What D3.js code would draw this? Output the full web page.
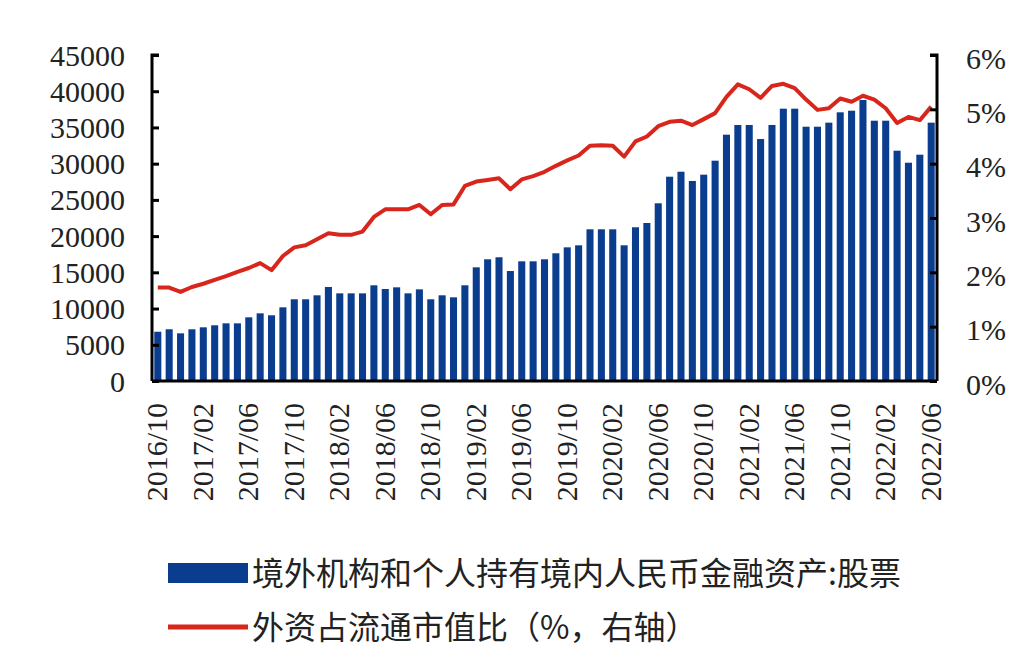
<!DOCTYPE html>
<html>
<head>
<meta charset="utf-8">
<script src="https://cdn.jsdelivr.net/npm/d3@7"></script>
<style>
  body { margin: 0; background: #fff; }
  svg { display: block; }
</style>
</head>
<body>
<div id="chart"></div>
<script>
// data: months 2016/10 .. 2022/06
const months = [];
for (let y = 2016, m = 10; y < 2022 || (y === 2022 && m <= 6); m++) {
    if (m > 12) { m = 1; y++; }
    months.push(y + "/" + String(m).padStart(2, "0"));
}

// 境外机构和个人持有境内人民币金融资产:股票 (亿元)
const stockHoldings = [
    6800, 7140, 6580, 7140, 7410, 7690, 7960, 7960, 8790, 9340, 9070, 10170,
    11280, 11280, 11830, 12980, 12100, 12100, 12100, 13210, 12700, 12930, 12100, 12650,
    11280, 11830, 11550, 13210, 15690, 16800, 17080, 15180, 16520, 16520, 16800, 17630,
    18450, 18730, 20940, 20940, 20940, 18730, 21220, 21810, 24530, 28200, 28890, 27610,
    28480, 30410, 34000, 35340, 35340, 33400, 35340, 37590, 37590, 35100, 35100, 35660,
    37090, 37310, 38790, 35930, 35930, 31790, 30130, 31240, 35660
];

// 外资占流通市值比 (%)
const foreignShare = [
    1.72, 1.72, 1.64, 1.73, 1.79, 1.86, 1.93, 2.01, 2.08, 2.17, 2.04, 2.30,
    2.46, 2.50, 2.61, 2.72, 2.69, 2.69, 2.75, 3.02, 3.16, 3.16, 3.16, 3.24,
    3.07, 3.24, 3.25, 3.59, 3.67, 3.70, 3.73, 3.53, 3.71, 3.77, 3.85, 3.96,
    4.06, 4.15, 4.33, 4.34, 4.33, 4.13, 4.41, 4.50, 4.69, 4.77, 4.79, 4.71,
    4.82, 4.93, 5.23, 5.46, 5.37, 5.21, 5.43, 5.47, 5.39, 5.18, 4.99, 5.02,
    5.20, 5.14, 5.25, 5.18, 5.02, 4.75, 4.86, 4.80, 5.05
];

const leftTicks = [0, 5000, 10000, 15000, 20000, 25000, 30000, 35000, 40000, 45000];
const rightTicks = [0, 1, 2, 3, 4, 5, 6];
const labelMonths = months.filter((d, i) => i % 4 === 0);

const legendItems = [
    { type: "bar", text: "境外机构和个人持有境内人民币金融资产:股票" },
    { type: "line", text: "外资占流通市值比（%，右轴）" }
];

// dimensions
const width = 1024,
    height = 651,
    margin = { top: 55, right: 87, bottom: 270, left: 152 };

const barColor = "#0b3d8f",
    lineColor = "#d8261d",
    serif = "'Liberation Serif', 'Times New Roman', serif",
    cjk = "'Noto Sans CJK SC', 'Noto Sans', sans-serif";

const svg = d3.select("#chart")
    .append("svg")
    .attr("width", width)
    .attr("height", height);

// scales
const x = d3.scaleBand()
    .domain(months)
    .range([margin.left, width - margin.right])
    .paddingInner(0.38)
    .paddingOuter(0.2);

const yLeft = d3.scaleLinear()
    .domain([0, 45000])
    .range([height - margin.bottom, margin.top]);

const yRight = d3.scaleLinear()
    .domain([0, 6])
    .range([height - margin.bottom, margin.top]);

// bars
svg.append("g")
    .selectAll("rect")
    .data(stockHoldings)
    .enter()
    .append("rect")
    .attr("x", (d, i) => x(months[i]))
    .attr("y", d => yLeft(d))
    .attr("width", x.bandwidth())
    .attr("height", d => yLeft(0) - yLeft(d))
    .attr("fill", barColor);

// line
const line = d3.line()
    .x((d, i) => x(months[i]) + x.bandwidth() / 2)
    .y(d => yRight(d));

svg.append("path")
    .datum(foreignShare)
    .attr("d", line)
    .attr("fill", "none")
    .attr("stroke", lineColor)
    .attr("stroke-width", 4)
    .attr("stroke-linejoin", "round");

// axes
const leftAxis = d3.axisRight(yLeft)
    .tickValues(leftTicks)
    .tickSize(7)
    .tickFormat("");

const rightAxis = d3.axisLeft(yRight)
    .tickValues(rightTicks)
    .tickSize(7)
    .tickFormat("");

function styleAxis(g) {
    g.select(".domain").attr("stroke", "#000").attr("stroke-width", 3);
    g.selectAll(".tick line").attr("stroke", "#000").attr("stroke-width", 3);
}

svg.append("g")
    .attr("transform", "translate(" + margin.left + ",0)")
    .call(leftAxis)
    .call(styleAxis)
    .call(g => g.select(".domain").attr("d", `M7,${margin.top}H0V${height - margin.bottom}`));

svg.append("g")
    .attr("transform", "translate(" + (width - margin.right) + ",0)")
    .call(rightAxis)
    .call(styleAxis)
    .call(g => g.select(".domain").attr("d", `M-7,${margin.top}H0V${height - margin.bottom}`));

// bottom axis line
svg.append("line")
    .attr("x1", margin.left)
    .attr("x2", width - margin.right)
    .attr("y1", yLeft(0))
    .attr("y2", yLeft(0))
    .attr("stroke", "#000")
    .attr("stroke-width", 3);

// left tick labels
svg.append("g")
    .selectAll("text")
    .data(leftTicks)
    .enter()
    .append("text")
    .attr("x", 125)
    .attr("y", d => yLeft(d))
    .attr("dy", "0.35em")
    .attr("text-anchor", "end")
    .style("font-family", serif)
    .style("font-size", "30px")
    .attr("fill", "#222")
    .text(d => d);

// right tick labels
svg.append("g")
    .selectAll("text")
    .data(rightTicks)
    .enter()
    .append("text")
    .attr("x", 966)
    .attr("y", d => yRight(d))
    .attr("dy", "0.45em")
    .attr("text-anchor", "start")
    .style("font-family", serif)
    .style("font-size", "30px")
    .attr("fill", "#222")
    .text(d => d + "%");

// x labels, rotated
svg.append("g")
    .selectAll("text")
    .data(labelMonths)
    .enter()
    .append("text")
    .attr("transform", d => `translate(${x(d) + x.bandwidth() / 2 - 1},403) rotate(-90)`)
    .attr("dy", "0.35em")
    .attr("text-anchor", "end")
    .style("font-family", serif)
    .style("font-size", "30px")
    .attr("fill", "#222")
    .text(d => d);

// legend
const legend = svg.append("g")
    .selectAll("g")
    .data(legendItems)
    .enter()
    .append("g")
    .attr("transform", (d, i) => `translate(168,${573 + i * 54})`);

legend.filter(d => d.type === "bar")
    .append("rect")
    .attr("x", 0)
    .attr("y", -10)
    .attr("width", 80)
    .attr("height", 20)
    .attr("fill", barColor);

legend.filter(d => d.type === "line")
    .append("line")
    .attr("x1", 0)
    .attr("x2", 80)
    .attr("stroke", lineColor)
    .attr("stroke-width", 5);

legend.append("text")
    .attr("x", 84)
    .attr("dy", "0.36em")
    .style("font-family", cjk)
    .style("font-size", "32px")
    .attr("fill", "#222")
    .text(d => d.text);
</script>
</body>
</html>
